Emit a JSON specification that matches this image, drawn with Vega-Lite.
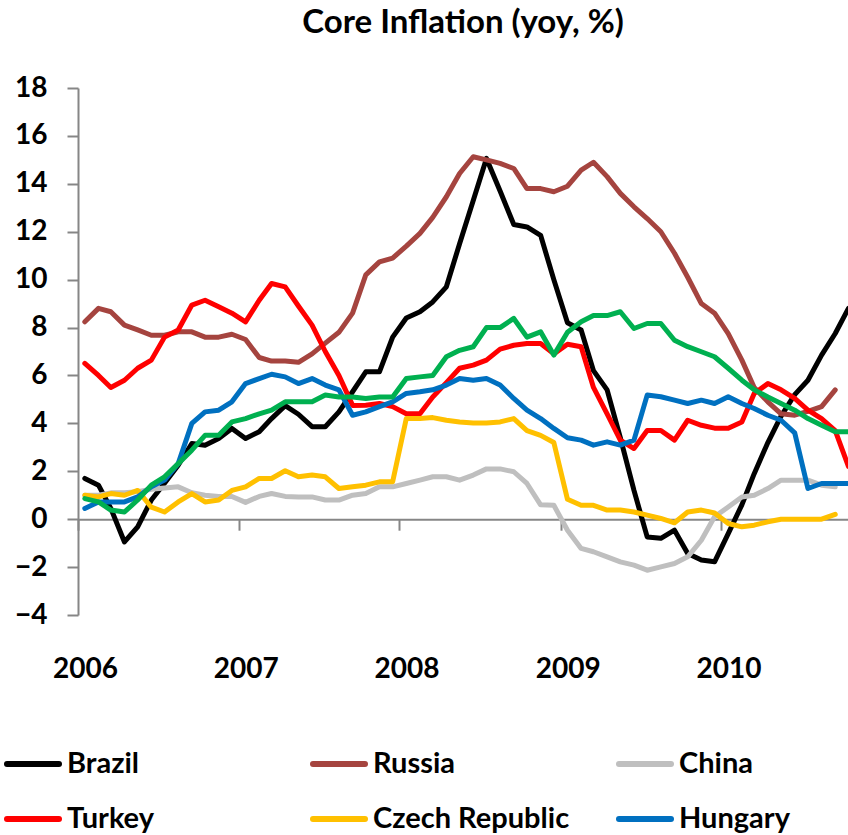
{
  "$schema": "https://vega.github.io/schema/vega-lite/v6.json",
  "width": 770,
  "height": 527,
  "autosize": {"type": "none"},
  "padding": {"left": 78, "top": 88, "right": 0, "bottom": 220},
  "background": "white",
  "title": {"text": "Core Inflation (yoy, %)", "font": "Lato", "fontSize": 33, "fontWeight": "bold", "color": "black", "anchor": "middle", "baseline": "alphabetic", "offset": 8},
  "data": {"values": [
    {"date": "2006-01", "Brazil": 1.7, "Russia": 8.24, "China": 1.0, "Turkey": 6.5, "Czech Republic": 1.0, "Hungary": 0.45, "Series 7": 0.86},
    {"date": "2006-02", "Brazil": 1.42, "Russia": 8.8, "China": 1.0, "Turkey": 6.0, "Czech Republic": 0.93, "Hungary": 0.72, "Series 7": 0.72},
    {"date": "2006-03", "Brazil": 0.45, "Russia": 8.66, "China": 1.1, "Turkey": 5.5, "Czech Republic": 1.07, "Hungary": 0.72, "Series 7": 0.38},
    {"date": "2006-04", "Brazil": -0.95, "Russia": 8.1, "China": 1.1, "Turkey": 5.8, "Czech Republic": 1.0, "Hungary": 0.72, "Series 7": 0.3},
    {"date": "2006-05", "Brazil": -0.32, "Russia": 7.9, "China": 1.15, "Turkey": 6.3, "Czech Republic": 1.2, "Hungary": 0.93, "Series 7": 0.8},
    {"date": "2006-06", "Brazil": 0.8, "Russia": 7.68, "China": 1.25, "Turkey": 6.64, "Czech Republic": 0.5, "Hungary": 1.35, "Series 7": 1.42},
    {"date": "2006-07", "Brazil": 1.5, "Russia": 7.68, "China": 1.3, "Turkey": 7.6, "Czech Republic": 0.3, "Hungary": 1.63, "Series 7": 1.77},
    {"date": "2006-08", "Brazil": 2.25, "Russia": 7.82, "China": 1.35, "Turkey": 7.9, "Czech Republic": 0.72, "Hungary": 2.32, "Series 7": 2.32},
    {"date": "2006-09", "Brazil": 3.16, "Russia": 7.82, "China": 1.1, "Turkey": 8.94, "Czech Republic": 1.07, "Hungary": 4.0, "Series 7": 2.88},
    {"date": "2006-10", "Brazil": 3.09, "Russia": 7.6, "China": 1.0, "Turkey": 9.14, "Czech Republic": 0.72, "Hungary": 4.48, "Series 7": 3.5},
    {"date": "2006-11", "Brazil": 3.37, "Russia": 7.6, "China": 0.95, "Turkey": 8.87, "Czech Republic": 0.8, "Hungary": 4.55, "Series 7": 3.5},
    {"date": "2006-12", "Brazil": 3.79, "Russia": 7.72, "China": 0.95, "Turkey": 8.6, "Czech Republic": 1.2, "Hungary": 4.9, "Series 7": 4.06},
    {"date": "2007-01", "Brazil": 3.37, "Russia": 7.5, "China": 0.7, "Turkey": 8.24, "Czech Republic": 1.35, "Hungary": 5.66, "Series 7": 4.2},
    {"date": "2007-02", "Brazil": 3.65, "Russia": 6.75, "China": 0.95, "Turkey": 9.14, "Czech Republic": 1.7, "Hungary": 5.87, "Series 7": 4.4},
    {"date": "2007-03", "Brazil": 4.2, "Russia": 6.6, "China": 1.07, "Turkey": 9.84, "Czech Republic": 1.7, "Hungary": 6.05, "Series 7": 4.55},
    {"date": "2007-04", "Brazil": 4.74, "Russia": 6.6, "China": 0.95, "Turkey": 9.7, "Czech Republic": 2.02, "Hungary": 5.94, "Series 7": 4.9},
    {"date": "2007-05", "Brazil": 4.38, "Russia": 6.55, "China": 0.93, "Turkey": 8.9, "Czech Republic": 1.77, "Hungary": 5.66, "Series 7": 4.9},
    {"date": "2007-06", "Brazil": 3.86, "Russia": 6.9, "China": 0.93, "Turkey": 8.1, "Czech Republic": 1.84, "Hungary": 5.87, "Series 7": 4.9},
    {"date": "2007-07", "Brazil": 3.86, "Russia": 7.35, "China": 0.8, "Turkey": 7.0, "Czech Republic": 1.77, "Hungary": 5.6, "Series 7": 5.18},
    {"date": "2007-08", "Brazil": 4.48, "Russia": 7.8, "China": 0.8, "Turkey": 6.0, "Czech Republic": 1.28, "Hungary": 5.4, "Series 7": 5.1},
    {"date": "2007-09", "Brazil": 5.32, "Russia": 8.6, "China": 1.0, "Turkey": 4.75, "Czech Republic": 1.35, "Hungary": 4.34, "Series 7": 5.1},
    {"date": "2007-10", "Brazil": 6.15, "Russia": 10.2, "China": 1.07, "Turkey": 4.76, "Czech Republic": 1.42, "Hungary": 4.48, "Series 7": 5.04},
    {"date": "2007-11", "Brazil": 6.15, "Russia": 10.74, "China": 1.35, "Turkey": 4.83, "Czech Republic": 1.56, "Hungary": 4.7, "Series 7": 5.1},
    {"date": "2007-12", "Brazil": 7.6, "Russia": 10.9, "China": 1.35, "Turkey": 4.7, "Czech Republic": 1.56, "Hungary": 4.9, "Series 7": 5.1},
    {"date": "2008-01", "Brazil": 8.4, "Russia": 11.4, "China": 1.49, "Turkey": 4.4, "Czech Republic": 4.2, "Hungary": 5.25, "Series 7": 5.87},
    {"date": "2008-02", "Brazil": 8.66, "Russia": 11.93, "China": 1.63, "Turkey": 4.4, "Czech Republic": 4.2, "Hungary": 5.32, "Series 7": 5.94},
    {"date": "2008-03", "Brazil": 9.07, "Russia": 12.6, "China": 1.77, "Turkey": 5.1, "Czech Republic": 4.24, "Hungary": 5.4, "Series 7": 6.0},
    {"date": "2008-04", "Brazil": 9.7, "Russia": 13.46, "China": 1.77, "Turkey": 5.7, "Czech Republic": 4.13, "Hungary": 5.6, "Series 7": 6.78},
    {"date": "2008-05", "Brazil": 11.5, "Russia": 14.43, "China": 1.63, "Turkey": 6.3, "Czech Republic": 4.06, "Hungary": 5.87, "Series 7": 7.05},
    {"date": "2008-06", "Brazil": 13.3, "Russia": 15.13, "China": 1.84, "Turkey": 6.43, "Czech Republic": 4.02, "Hungary": 5.8, "Series 7": 7.2},
    {"date": "2008-07", "Brazil": 15.06, "Russia": 15.0, "China": 2.1, "Turkey": 6.64, "Czech Republic": 4.02, "Hungary": 5.87, "Series 7": 8.0},
    {"date": "2008-08", "Brazil": 13.7, "Russia": 14.85, "China": 2.1, "Turkey": 7.1, "Czech Republic": 4.06, "Hungary": 5.6, "Series 7": 8.0},
    {"date": "2008-09", "Brazil": 12.3, "Russia": 14.64, "China": 1.98, "Turkey": 7.26, "Czech Republic": 4.2, "Hungary": 5.04, "Series 7": 8.38},
    {"date": "2008-10", "Brazil": 12.2, "Russia": 13.8, "China": 1.49, "Turkey": 7.33, "Czech Republic": 3.7, "Hungary": 4.55, "Series 7": 7.6},
    {"date": "2008-11", "Brazil": 11.85, "Russia": 13.8, "China": 0.6, "Turkey": 7.33, "Czech Republic": 3.5, "Hungary": 4.2, "Series 7": 7.82},
    {"date": "2008-12", "Brazil": 10.0, "Russia": 13.67, "China": 0.58, "Turkey": 6.9, "Czech Republic": 3.2, "Hungary": 3.79, "Series 7": 6.85},
    {"date": "2009-01", "Brazil": 8.2, "Russia": 13.9, "China": -0.46, "Turkey": 7.3, "Czech Republic": 0.83, "Hungary": 3.4, "Series 7": 7.8},
    {"date": "2009-02", "Brazil": 7.9, "Russia": 14.57, "China": -1.22, "Turkey": 7.2, "Czech Republic": 0.58, "Hungary": 3.3, "Series 7": 8.24},
    {"date": "2009-03", "Brazil": 6.2, "Russia": 14.9, "China": -1.36, "Turkey": 5.5, "Czech Republic": 0.58, "Hungary": 3.09, "Series 7": 8.5},
    {"date": "2009-04", "Brazil": 5.4, "Russia": 14.3, "China": -1.57, "Turkey": 4.4, "Czech Republic": 0.38, "Hungary": 3.23, "Series 7": 8.5},
    {"date": "2009-05", "Brazil": 3.4, "Russia": 13.6, "China": -1.78, "Turkey": 3.3, "Czech Republic": 0.38, "Hungary": 3.09, "Series 7": 8.66},
    {"date": "2009-06", "Brazil": 1.2, "Russia": 13.04, "China": -1.92, "Turkey": 2.95, "Czech Republic": 0.3, "Hungary": 3.3, "Series 7": 7.96},
    {"date": "2009-07", "Brazil": -0.74, "Russia": 12.55, "China": -2.13, "Turkey": 3.7, "Czech Republic": 0.17, "Hungary": 5.18, "Series 7": 8.17},
    {"date": "2009-08", "Brazil": -0.8, "Russia": 12.0, "China": -1.99, "Turkey": 3.7, "Czech Republic": 0.03, "Hungary": 5.11, "Series 7": 8.17},
    {"date": "2009-09", "Brazil": -0.46, "Russia": 11.1, "China": -1.85, "Turkey": 3.3, "Czech Republic": -0.15, "Hungary": 4.97, "Series 7": 7.47},
    {"date": "2009-10", "Brazil": -1.43, "Russia": 10.1, "China": -1.57, "Turkey": 4.13, "Czech Republic": 0.3, "Hungary": 4.83, "Series 7": 7.2},
    {"date": "2009-11", "Brazil": -1.7, "Russia": 9.0, "China": -0.88, "Turkey": 3.92, "Czech Republic": 0.38, "Hungary": 4.97, "Series 7": 6.99},
    {"date": "2009-12", "Brazil": -1.78, "Russia": 8.6, "China": 0.1, "Turkey": 3.8, "Czech Republic": 0.26, "Hungary": 4.83, "Series 7": 6.78},
    {"date": "2010-01", "Brazil": -0.6, "Russia": 7.75, "China": 0.51, "Turkey": 3.8, "Czech Republic": -0.18, "Hungary": 5.11, "Series 7": 6.3},
    {"date": "2010-02", "Brazil": 0.6, "Russia": 6.64, "China": 0.93, "Turkey": 4.06, "Czech Republic": -0.32, "Hungary": 4.83, "Series 7": 5.8},
    {"date": "2010-03", "Brazil": 1.9, "Russia": 5.5, "China": 1.0, "Turkey": 5.25, "Czech Republic": -0.25, "Hungary": 4.62, "Series 7": 5.4},
    {"date": "2010-04", "Brazil": 3.2, "Russia": 4.9, "China": 1.28, "Turkey": 5.66, "Czech Republic": -0.11, "Hungary": 4.34, "Series 7": 5.1},
    {"date": "2010-05", "Brazil": 4.3, "Russia": 4.4, "China": 1.63, "Turkey": 5.4, "Czech Republic": 0.0, "Hungary": 4.13, "Series 7": 4.83},
    {"date": "2010-06", "Brazil": 5.2, "Russia": 4.34, "China": 1.63, "Turkey": 5.04, "Czech Republic": 0.0, "Hungary": 3.6, "Series 7": 4.55},
    {"date": "2010-07", "Brazil": 5.8, "Russia": 4.5, "China": 1.63, "Turkey": 4.55, "Czech Republic": 0.0, "Hungary": 1.28, "Series 7": 4.2},
    {"date": "2010-08", "Brazil": 6.85, "Russia": 4.7, "China": 1.42, "Turkey": 4.2, "Czech Republic": 0.0, "Hungary": 1.49, "Series 7": 3.92},
    {"date": "2010-09", "Brazil": 7.75, "Russia": 5.4, "China": 1.35, "Turkey": 3.7, "Czech Republic": 0.2, "Hungary": 1.49, "Series 7": 3.65},
    {"date": "2010-10", "Brazil": 8.8, "Turkey": 2.2, "Hungary": 1.49, "Series 7": 3.65}
  ]},
  "transform": [
    {"fold": ["Brazil", "Russia", "China", "Turkey", "Czech Republic", "Hungary", "Series 7"], "as": ["country", "value"]},
    {"filter": "isValid(datum.value)"}
  ],
  "mark": {"type": "line", "strokeWidth": 5, "strokeJoin": "round", "strokeCap": "round", "clip": true},
  "encoding": {
    "x": {
      "field": "date", "type": "temporal",
      "scale": {"type": "utc", "domain": [{"year": 2005, "month": 12, "date": 16, "hours": 12, "utc": true}, {"year": 2010, "month": 9, "date": 30, "utc": true}]},
      "axis": {
        "values": [
          {"year": 2005, "month": 12, "date": 16, "hours": 12, "utc": true},
          {"year": 2006, "month": 12, "date": 16, "hours": 12, "utc": true},
          {"year": 2007, "month": 12, "date": 16, "hours": 12, "utc": true},
          {"year": 2008, "month": 12, "date": 16, "hours": 12, "utc": true},
          {"year": 2009, "month": 12, "date": 16, "hours": 12, "utc": true}
        ],
        "labelExpr": "'' + (utcyear(datum.value) + 1)",
        "title": null, "grid": false, "offset": -95.8,
        "domainColor": "#868686", "domainWidth": 2, "tickColor": "#868686", "tickWidth": 2, "tickSize": 11,
        "labelPadding": 125, "labelOffset": 7, "labelFlush": false, "labelOverlap": false, "labelBaseline": "top",
        "labelFont": "Lato", "labelFontSize": 28, "labelFontWeight": "bold", "labelColor": "black"
      }
    },
    "y": {
      "field": "value", "type": "quantitative",
      "scale": {"domain": [-4, 18], "nice": false, "zero": false},
      "axis": {
        "values": [-4, -2, 0, 2, 4, 6, 8, 10, 12, 14, 16, 18],
        "title": null, "grid": false,
        "domainColor": "#868686", "domainWidth": 2, "tickColor": "#868686", "tickWidth": 2, "tickSize": 11,
        "labelPadding": 20, "labelFont": "Lato", "labelFontSize": 28, "labelFontWeight": "bold", "labelColor": "black", "labelOverlap": false
      }
    },
    "color": {
      "field": "country", "type": "nominal",
      "scale": {"domain": ["Brazil", "Russia", "China", "Turkey", "Czech Republic", "Hungary", "Series 7"],
                "range": ["#000000", "#A5443F", "#BFBFBF", "#FF0000", "#FFC000", "#0070C0", "#00B050"]},
      "legend": {
        "values": ["Brazil", "Russia", "China", "Turkey", "Czech Republic", "Hungary"],
        "orient": "none", "legendX": -74, "legendY": 647, "columns": 3, "direction": "horizontal", "title": null,
        "symbolType": "stroke", "symbolSize": 2704, "symbolStrokeWidth": 6,
        "labelFont": "Lato", "labelFontSize": 29, "labelFontWeight": "bold", "labelColor": "black", "labelOffset": 5, "labelLimit": 400,
        "columnPadding": 37, "rowPadding": 11, "gridAlign": "all", "padding": 0,
        "encode": {"symbols": {"update": {"strokeCap": {"value": "round"}}}}
      }
    }
  },
  "config": {"view": {"stroke": null}}
}
